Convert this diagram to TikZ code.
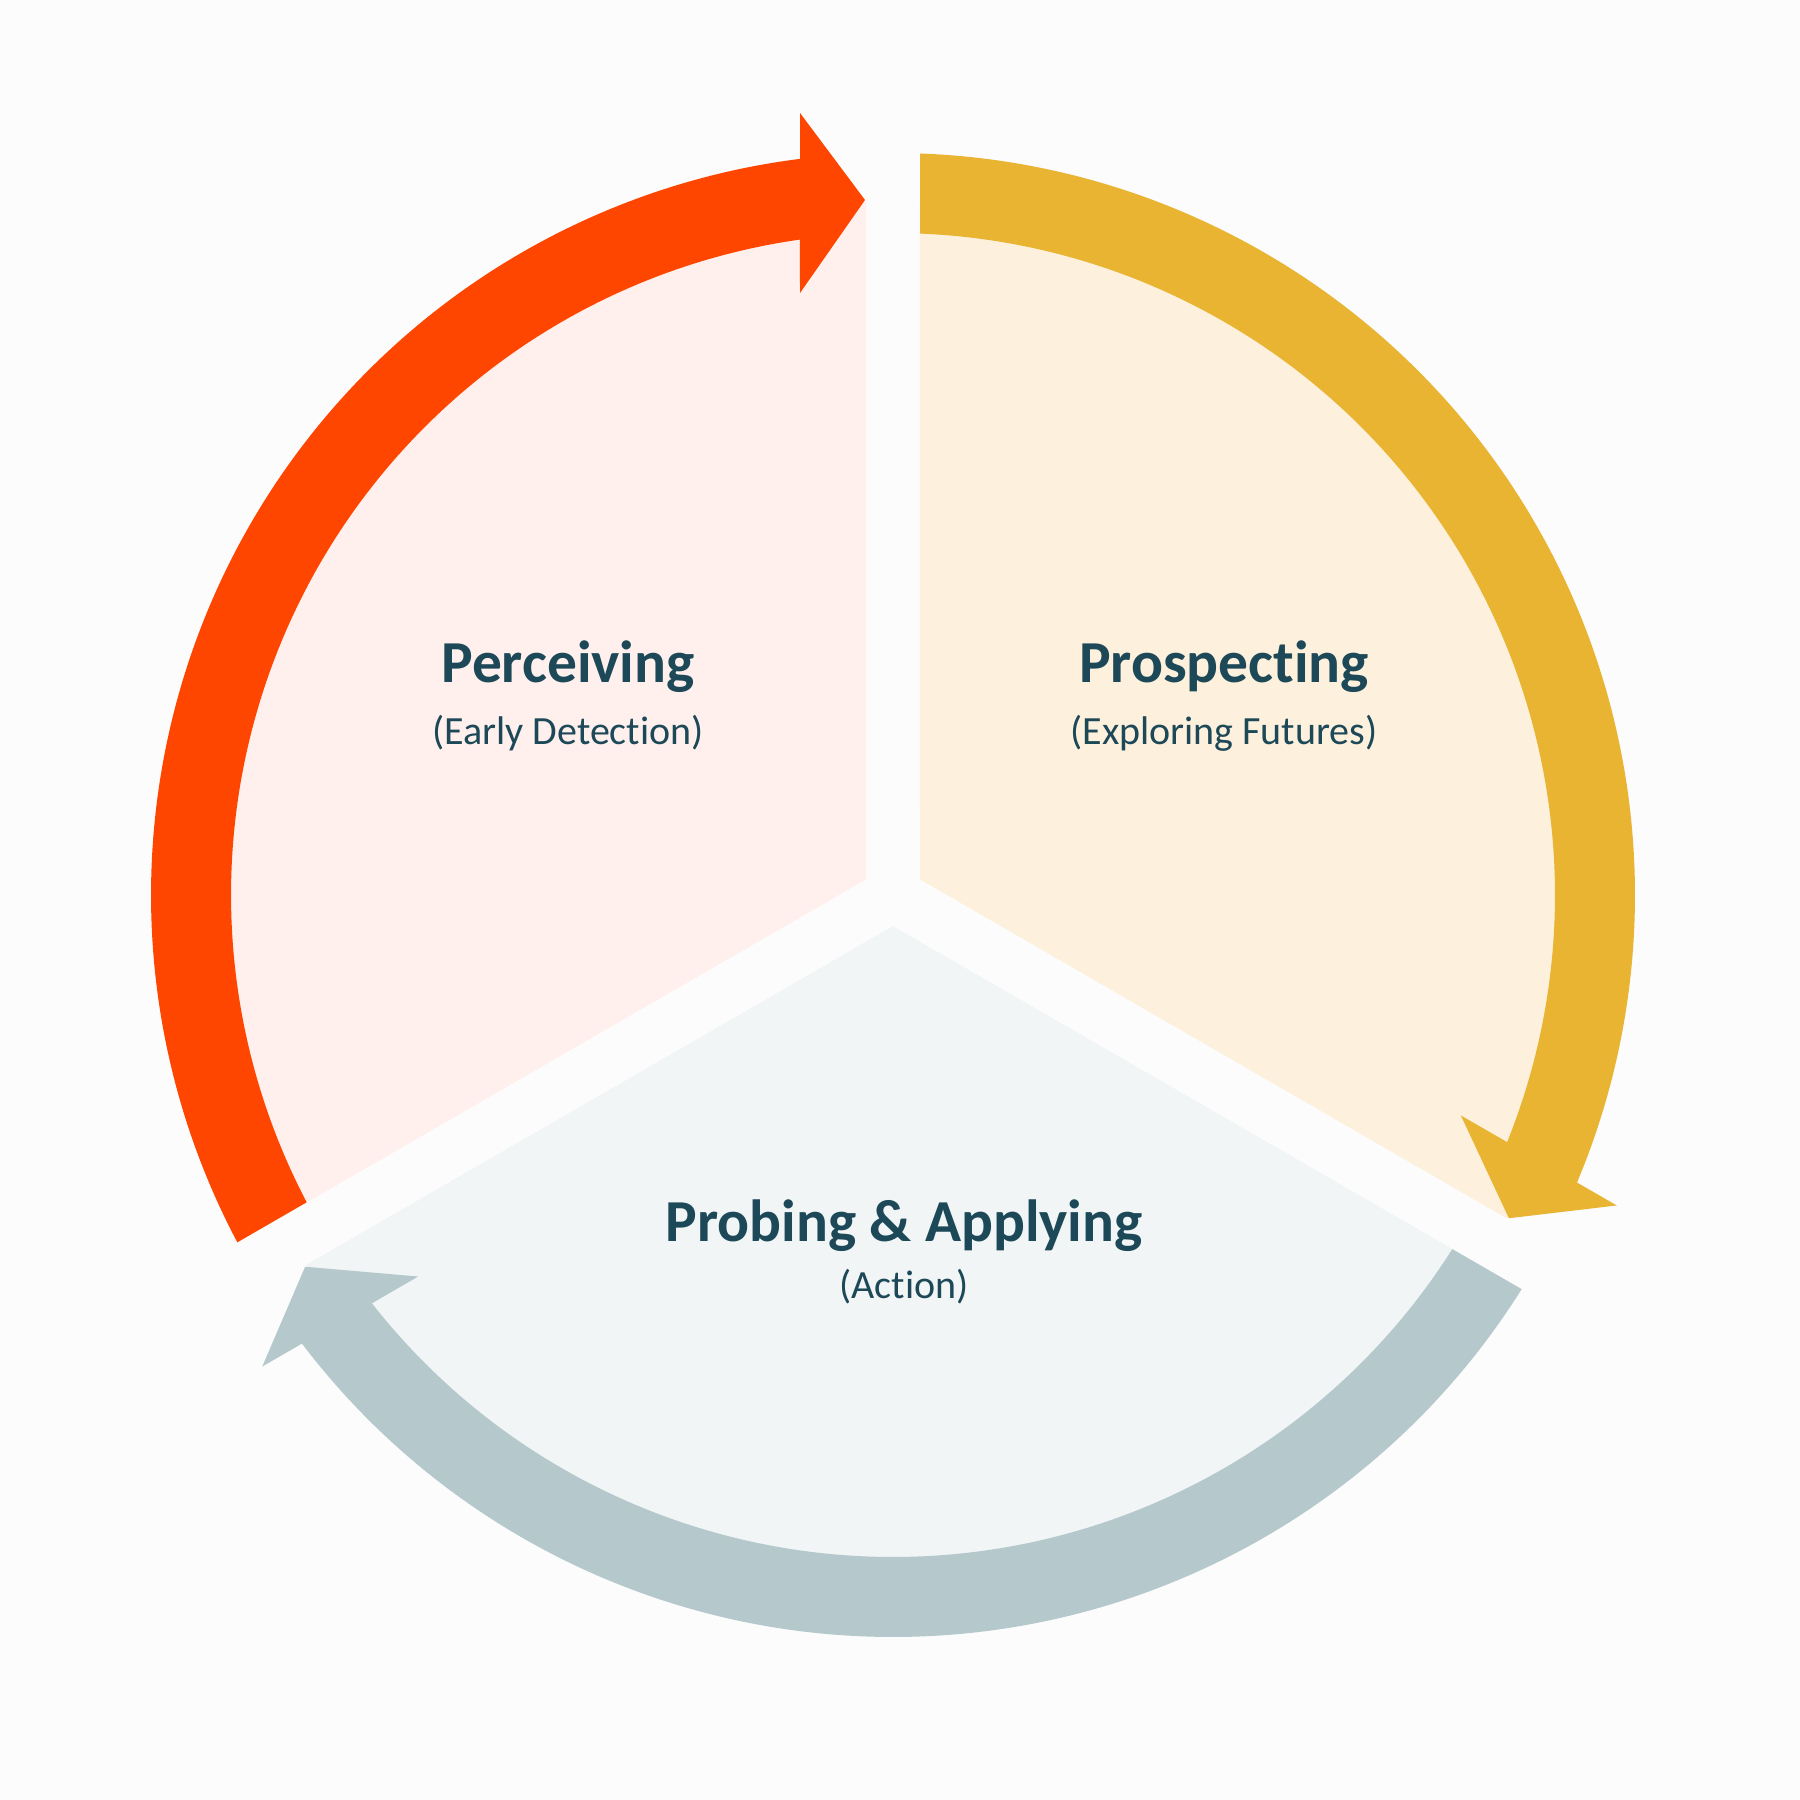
\documentclass[tikz,border=0pt]{standalone}
\usepackage{fontspec}
\setmainfont{Carlito}[Ligatures={NoCommon}]
\definecolor{bgc}{RGB}{252,252,252}
\definecolor{redc}{RGB}{255,70,0}
\definecolor{yelc}{RGB}{232,180,50}
\definecolor{gryc}{RGB}{181,200,204}
\definecolor{redl}{RGB}{255,240,237}
\definecolor{yell}{RGB}{253,240,220}
\definecolor{gryl}{RGB}{241,245,246}
\definecolor{txtc}{RGB}{28,72,88}
\def\ringpiece{(207.915:742) arc[start angle=207.915, end angle=97.2, radius=742] -- (-93,782) -- (-28,695) -- (-93,602) -- (98.08:662) arc[start angle=98.08, end angle=207.66, radius=662] -- cycle}
\def\sectorpiece{(150:31.18) -- (92.22:694) arc[start angle=92.22, end angle=207.78, radius=694] -- cycle}
\tikzset{
  title/.style={anchor=base, text=txtc, font=\fontsize{59.5}{62}\selectfont\bfseries, inner sep=0pt},
  subtitle/.style={anchor=base, text=txtc, font=\fontsize{40}{43}\selectfont, inner sep=0pt}
}
\begin{document}
\begin{tikzpicture}[x=1pt,y=1pt]
\fill[bgc] (0,0) rectangle (1800,1800);
\useasboundingbox (0,0) rectangle (1800,1800);
\coordinate (O) at (893,905);
% sectors
\begin{scope}[shift={(O)}]
  \fill[redl] \sectorpiece;
  \begin{scope}[rotate=-120] \fill[yell] \sectorpiece; \end{scope}
  \begin{scope}[rotate=120] \fill[gryl] \sectorpiece; \end{scope}
% ring arrows
  \fill[redc] \ringpiece;
  \begin{scope}[rotate=-120] \fill[yelc] \ringpiece; \end{scope}
  \begin{scope}[rotate=120] \fill[gryc] \ringpiece; \end{scope}
\end{scope}
% labels
\node[title] (perc) at (568,1117) {Perceiving};
\node[subtitle] (percs) at (568,1055) {(Early Detection)};
\node[title] (pros) at (1224,1117) {Prospecting};
\node[subtitle] (pross) at (1224,1055) {(Exploring Futures)};
\node[title] (prob) at (904,558) {Probing \& Applying};
\node[subtitle] (probs) at (904,501) {(Action)};
\end{tikzpicture}
\end{document}
